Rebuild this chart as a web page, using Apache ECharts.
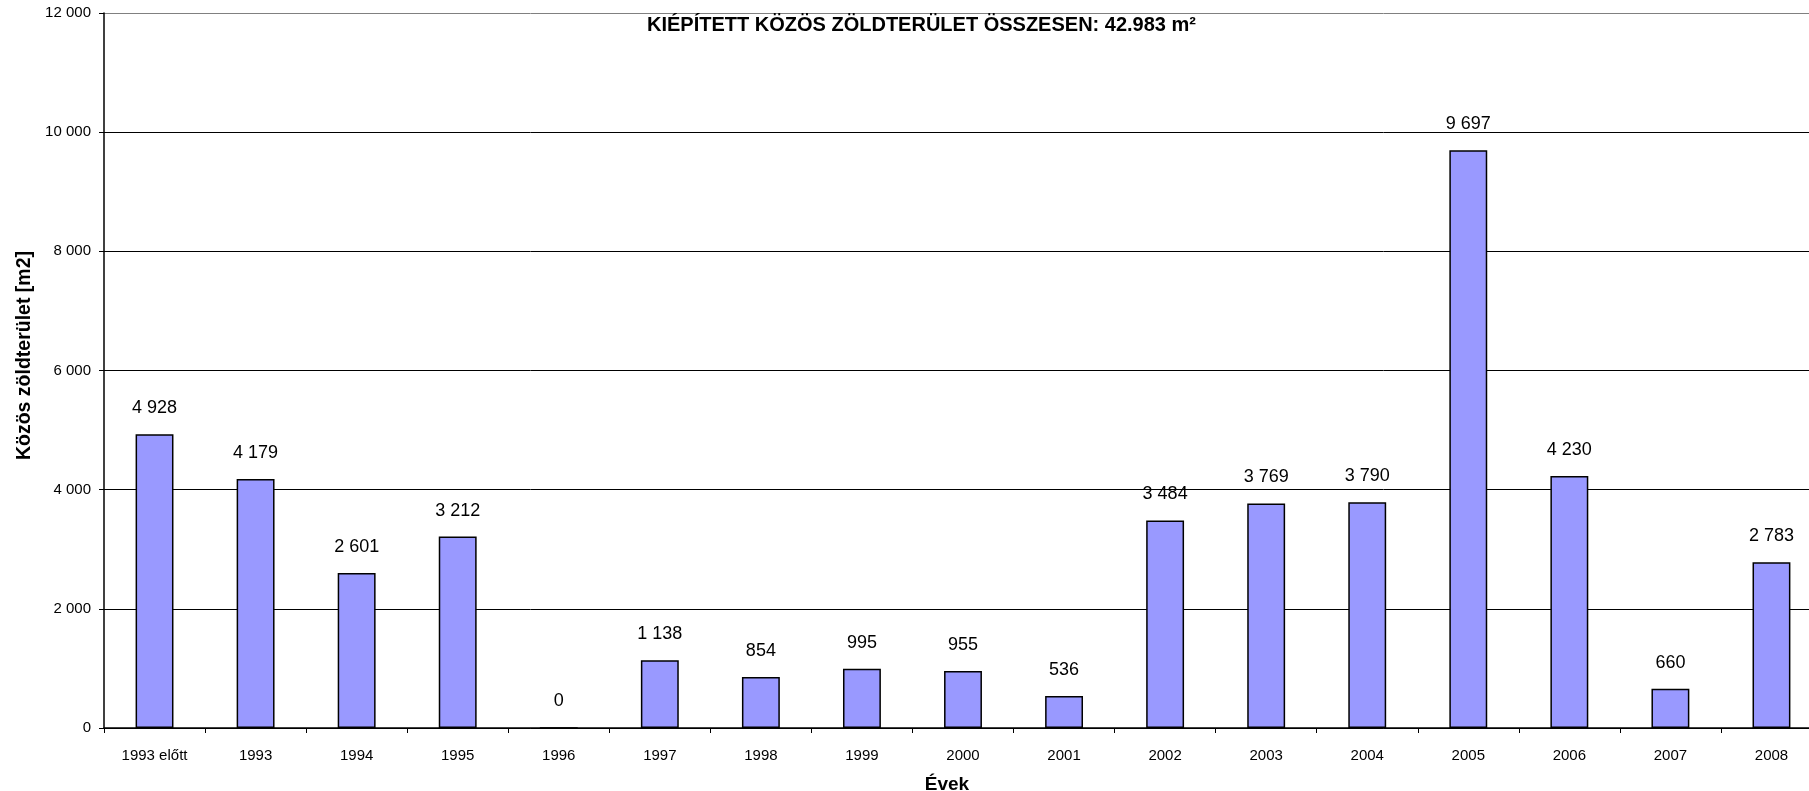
<!DOCTYPE html>
<html>
<head>
<meta charset="utf-8">
<script src="https://cdn.jsdelivr.net/npm/echarts@6/dist/echarts.min.js"></script>
<style>
html,body{margin:0;padding:0;background:#fff;}
#chart{width:1809px;height:791px;}
</style>
</head>
<body>
<div id="chart"></div>
<script>
const categories = ['1993 előtt','1993','1994','1995','1996','1997','1998','1999','2000','2001','2002','2003','2004','2005','2006','2007','2008'];
const values = [4928,4179,2601,3212,0,1138,854,995,955,536,3484,3769,3790,9697,4230,660,2783];
const titleText = 'KIÉPÍTETT KÖZÖS ZÖLDTERÜLET ÖSSZESEN: 42.983 m²';
const yAxisName = 'Közös zöldterület [m2]';
const xAxisName = 'Évek';

function fmt(v){
  return String(v).replace(/\B(?=(\d{3})+(?!\d))/g, ' ');
}

const chart = echarts.init(document.getElementById('chart'), null, {renderer:'canvas'});
chart.setOption({
  animation:false,
  backgroundColor:'#fff',
  textStyle:{fontFamily:'Liberation Sans, Arial, sans-serif'},
  title:{
    text:titleText,
    left:647, top:15,
    padding:0,
    textStyle:{fontFamily:'Liberation Sans, Arial', fontWeight:'bold', fontSize:20, color:'#000'}
  },
  grid:{left:104, right:-13, top:13, bottom:63, outerBoundsMode:'none', containLabel:false},
  xAxis:{
    type:'category',
    data:categories,
    name:xAxisName,
    nameLocation:'middle',
    nameGap:47,
    nameTextStyle:{fontWeight:'bold', fontSize:19, color:'#000', padding:[0,32,0,0]},
    axisLine:{show:true, lineStyle:{color:'#000', width:1.5}},
    axisTick:{show:true, alignWithLabel:false, length:5, lineStyle:{color:'#000'}},
    axisLabel:{color:'#000', fontSize:15, margin:20, interval:0},
    splitLine:{show:false}
  },
  yAxis:{
    type:'value',
    min:0, max:12000, interval:2000,
    name:yAxisName,
    nameLocation:'middle',
    nameGap:69,
    nameRotate:90,
    nameTextStyle:{fontWeight:'bold', fontSize:19.5, color:'#000', padding:[0,0,0,30]},
    axisLine:{show:true, lineStyle:{color:'#000', width:1.5}},
    axisTick:{show:true, length:5, lineStyle:{color:'#000'}},
    axisLabel:{color:'#000', fontSize:15, margin:13, formatter:fmt},
    splitLine:{show:true, lineStyle:{color:['#000','#000','#000','#000','#000','#000','#808080'], width:1}}
  },
  series:[{
    type:'bar',
    data:values,
    barWidth:'37.5%',
    itemStyle:{color:'#9999FF', borderColor:'#000', borderWidth:1.5},
    label:{show:true, position:'top', distance:17, color:'#000', fontSize:18, formatter:p=>fmt(p.value)}
  }]
});
</script>
</body>
</html>
